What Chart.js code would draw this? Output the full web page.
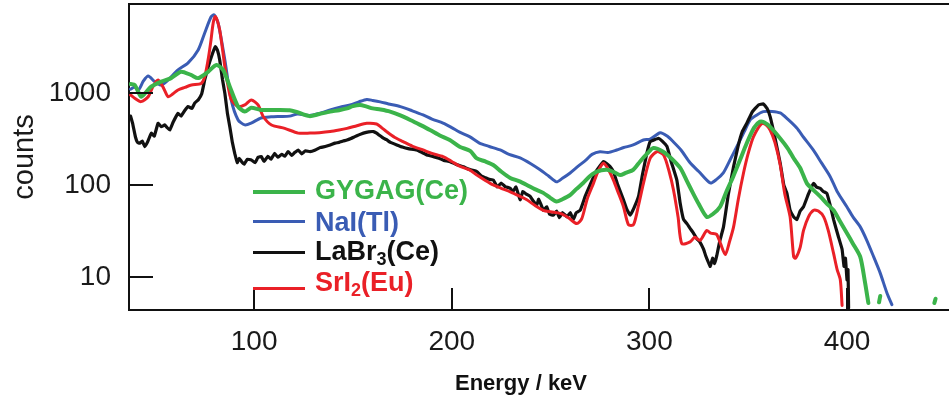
<!DOCTYPE html>
<html lang="en">
<head>
<meta charset="UTF-8">
<title>Scintillator spectra</title>
<script src="https://cdn.jsdelivr.net/npm/chart.js"></script>
<style>
  html, body { margin: 0; padding: 0; background: #fff; }
  .wrap { position: relative; width: 949px; height: 398px; font-family: "Liberation Sans", Arial, sans-serif; }
  .swatch { position: absolute; left: 253px; width: 52px; }
  .lbl { position: absolute; left: 315px; font-size: 27px; line-height: 27px; font-weight: bold; white-space: nowrap; }
  .lbl sub { font-size: 18px; line-height: 0; vertical-align: -5px; }
  .xtitle { position: absolute; top: 370px; left: 521px; transform: translateX(-50%); font-size: 22px; font-weight: bold; color: #111; white-space: nowrap; }
</style>
</head>
<body>
<div class="wrap">
  <canvas id="spec" width="949" height="398"></canvas>

  <div class="swatch" style="top:190px;height:4px;background:#3bb44a"></div>
  <div class="lbl" style="top:177px;color:#3bb44a">GYGAG(Ce)</div>
  <div class="swatch" style="top:219.5px;height:3px;background:#3a5cb4"></div>
  <div class="lbl" style="top:209px;color:#3a5cb4">NaI(Tl)</div>
  <div class="swatch" style="top:251px;height:3px;background:#111"></div>
  <div class="lbl" style="top:238px;color:#111">LaBr<sub>3</sub>(Ce)</div>
  <div class="swatch" style="top:287px;height:3px;background:#ea2027"></div>
  <div class="lbl" style="top:269px;color:#ea2027">SrI<sub>2</sub>(Eu)</div>

  <div class="xtitle">Energy / keV</div>
</div>

<script>
// [energy keV, counts]
const gygagCe = [
  [37.5,1250],[39.6,1220],[42.8,910],[45,1000],[47.9,1170],[53,1330],[58,1450],[63,1700],[68,1570],
  [71.7,1450],[76.7,1700],[80.9,2015],[84.3,1780],[87.7,1170],[91.9,710],[95.3,627],[98.5,690],
  [103.5,654],[112,654],[118,650],[121,627],[128,560],[133,590],[138.5,627],[143,650],[147,680],
  [150,720],[153.6,741],[157,710],[160,680],[164,660],[168.8,627],[174,570],[179,509],[184,450],
  [189,396],[194,345],[199,308],[204,260],[209.3,235],[212.7,194],[217,180],[221,165],[225,140],
  [229.6,119],[234,110],[238,100],[242,90],[246.3,82],[250,72],[253,66],[256,70],[260,78],[263,90],
  [266.5,105],[270,125],[273.4,140],[278.5,146],[282,138],[285.2,128],[288,135],[291.8,146],
  [295.3,180],[299,220],[302,252],[307,230],[311,195],[315.6,153],[319,110],[322,82],[325,62],
  [329,45],[332,48],[335.8,58],[339,85],[342.4,123],[346,190],[349.3,286],[353,420],[356,488],
  [358,480],[361,430],[366.2,320],[370,250],[373,195],[376.3,153],[379.7,104],[383,88],[386.4,75],
  [390,62],[393.2,53],[396.5,40],[399.9,30],[403,23],[406.7,16.5],[409,9],[410.8,5.2],
  [412,null],[416.2,5.3],[416.8,6.2],[420,null],[444.2,5.2],[444.8,5.8]
];

const naiTl = [
  [37.5,1100],[39.6,1160],[41.5,1080],[44,1350],[46.4,1530],[49.7,1330],[53,1220],[56.5,1385],
  [61.5,1780],[66.6,2120],[71.7,2930],[75,4480],[78.2,6700],[79.8,7050],[81.8,5750],[85.2,2285],
  [88.4,840],[91.9,509],[95.3,450],[98.5,470],[103.5,535],[108.6,550],[113,555],[118,560],[122,590],
  [128,570],[133,600],[138.5,654],[143.5,700],[148.6,741],[153,800],[157,850],[160,830],[163.8,800],
  [168,760],[174,710],[180,640],[185.5,577],[190,520],[195.6,470],[200,420],[204,375],[209,335],
  [214,285],[219,262],[224.5,240],[229,215],[234.6,197],[240,170],[244.7,146],[249,125],[253,108],
  [256,118],[259.9,135],[264,160],[268,187],[271,215],[275,230],[279,225],[283.5,240],[287,255],
  [291.8,272],[297,308],[300.4,315],[305.5,370],[309,340],[312,296],[316,240],[320.6,174],[325,140],
  [330.8,105],[334,115],[337.4,135],[341,190],[344.3,262],[348,380],[351,509],[354,570],[357.6,626],
  [362,630],[366.2,606],[370,520],[374.6,416],[378,330],[382.9,240],[387,175],[391.5,123],[395,85],
  [399.9,58],[403,45],[406.7,35],[410,25],[413.5,16.5],[416.8,11],[420.2,6.7],[422.7,5]
];

const labr3Ce = [
  [37.5,560],[38.5,470],[40,330],[41,290],[42.1,284],[43.4,300],[44.7,261],[46,290],[48,366],
  [49.5,340],[51.4,468],[53,430],[54.8,449],[56,420],[57.3,396],[59,480],[61.5,600],[63,560],
  [65,650],[66.6,710],[68.5,680],[70,780],[71.7,840],[73.5,980],[75,1385],[76.7,1900],[78.4,2480],
  [80.4,3180],[81.5,2900],[82.6,2285],[84,1400],[85.2,993],[86.5,600],[87.7,430],[89,290],[90.2,220],
  [91.5,175],[92.5,195],[93.6,180],[95,168],[96.5,190],[98.6,187],[100.5,175],[102,200],[103.7,203],
  [105,180],[107,205],[108.5,190],[110.4,220],[112,200],[114,215],[115.5,205],[117.2,230],[119,210],
  [120.5,225],[122.3,240],[124,218],[126,235],[128.3,230],[131,240],[133.5,255],[136,262],[138.5,272],
  [141,285],[143,290],[145,300],[147,308],[149,320],[151,335],[153,350],[155.3,366],[158,378],
  [160.4,380],[162,365],[163.5,345],[165.4,322],[167,310],[169,290],[172.2,272],[175,258],[178,248],
  [182.3,240],[185,225],[188,210],[190.7,203],[193.5,195],[196,185],[199.2,179],[202,168],[205.9,158],
  [208,150],[210,145],[212.7,140],[215,125],[217,120],[219,115],[221.1,113],[223,95],[225,105],
  [227,96],[229.6,92],[231,85],[232.5,95],[234.6,69],[236,85],[237.5,80],[239.7,75],[241,68],[243,60],
  [244,70],[246.4,53],[248,58],[249.5,48],[251.5,47],[253,52],[254.5,44],[256,50],[258.3,45],[260,50],
  [261.5,42],[263,50],[265,53],[267.5,75],[270,100],[273,140],[276.8,180],[278.5,170],[280,160],
  [281.8,140],[284,100],[286.9,69],[288.5,55],[290.3,47],[292,55],[294.5,75],[296.5,130],[298.7,220],
  [300.4,296],[302.5,310],[304.6,322],[306.5,300],[308.9,262],[311,180],[313.9,113],[315.5,65],
  [317.3,42],[319,38],[320.5,34],[322.3,30],[324,26],[325.5,24],[327.4,20],[328.5,17],[329.5,15],
  [330.8,13],[332,16],[333,14],[334.1,17],[335.5,24],[337.5,35],[340,80],[342.6,158],[345,270],
  [347,380],[349.3,468],[352,620],[355.2,741],[357.7,760],[359.5,680],[361.1,553],[363.5,330],
  [366.2,172],[368,100],[369.6,81],[371.2,53],[373,45],[374.6,42],[376.3,52],[378,58],[380.5,80],
  [383.1,104],[384.5,95],[386.4,92],[388,85],[389.8,81],[391.5,60],[393.2,42],[395.5,28],[397.5,20],
  [398.5,13],[399.2,16],[400,9.3],[400.5,12],[400.8,4.6]
];

const sri2Eu = [
  [37.5,950],[39.6,875],[42.8,805],[46.4,910],[49,1200],[51.4,1385],[54,1150],[56.5,910],[59,980],
  [61.5,1078],[65,1150],[68.3,1220],[73.2,1270],[75,1500],[76.7,2285],[78,3500],[79.3,5750],
  [80.4,6780],[81.5,6000],[82.6,4840],[84,3000],[85.2,1930],[86.8,1200],[88.5,840],[91.9,710],
  [95.3,741],[98.6,840],[102,741],[104.6,555],[108.8,449],[115.5,412],[122.3,366],[128.3,366],
  [133,370],[138.5,380],[143,395],[147,412],[152,440],[157,468],[162,460],[164.5,420],[167,380],
  [171,330],[175.4,296],[180,265],[185.5,240],[190,220],[195.6,203],[200,180],[204,160],[209,146],
  [212.7,128],[217,112],[221,100],[225,92],[229.6,84],[234,76],[238,69],[242,60],[246.3,53],[250,51],
  [254.9,49],[259,44],[263.3,38],[265.8,43],[268.5,70],[271.7,104],[274,140],[276.8,172],[279,150],
  [281.8,113],[284,85],[286.9,58],[289.4,37],[292,37],[294.5,60],[297,104],[300.4,195],[303.8,230],
  [307.2,212],[310,140],[312.2,88],[314.5,45],[316.4,23],[320.6,24],[323,27],[325.7,25],[329,32],
  [331,30],[334,29],[336,23],[338.4,17.5],[340.5,24],[342.6,35],[345,70],[347.6,134],[350,220],
  [352.7,335],[356.9,468],[359,450],[361.1,396],[363.5,290],[366.2,165],[368.5,80],[371.2,45],
  [373,16.5],[374,16],[376.3,21],[378,32],[380.5,45],[383.1,53],[385.5,52],[388.2,45],[390.5,32],
  [393.2,18],[395,12],[396.6,9.3],[397.5,4.9]
];

const xTicks = [100, 200, 300, 400];
const yTicks = [10, 100, 1000];

const FONT = '"Liberation Sans", Arial, sans-serif';
const toPts = rows => rows.map(([e, c]) => ({ x: e, y: c }));

// inward tick marks and the top edge of the frame
const frame = {
  id: 'frame',
  afterDraw(chart) {
    const { ctx, chartArea: a, scales: { x, y } } = chart;
    ctx.save();
    ctx.strokeStyle = '#111';
    ctx.lineWidth = 2;
    ctx.beginPath();
    ctx.moveTo(a.left, a.top);
    ctx.lineTo(a.right, a.top);
    xTicks.forEach(v => {
      const px = Math.round(x.getPixelForValue(v));
      ctx.moveTo(px, a.bottom);
      ctx.lineTo(px, a.bottom - 22);
    });
    yTicks.forEach(v => {
      const py = Math.round(y.getPixelForValue(v));
      ctx.moveTo(a.left, py);
      ctx.lineTo(a.left + 24, py);
    });
    ctx.stroke();
    ctx.restore();
  }
};

const noPad = s => { s.paddingTop = 0; s.paddingBottom = 0; s.paddingLeft = 0; s.paddingRight = 0; };

new Chart(document.getElementById('spec'), {
  type: 'line',
  data: {
    datasets: [
      { label: 'GYGAG(Ce)', data: toPts(gygagCe), borderColor: '#3bb44a', borderWidth: 4, order: 0, tension: 0.25 },
      { label: 'SrI2(Eu)', data: toPts(sri2Eu), borderColor: '#ea2027', borderWidth: 3, order: 1, tension: 0.25 },
      { label: 'LaBr3(Ce)', data: toPts(labr3Ce), borderColor: '#111111', borderWidth: 3.2, order: 2, tension: 0.1 },
      { label: 'NaI(Tl)', data: toPts(naiTl), borderColor: '#3a5cb4', borderWidth: 3, order: 3, tension: 0.25 }
    ]
  },
  options: {
    responsive: false,
    animation: false,
    spanGaps: false,
    layout: { padding: { top: 4, left: 0, right: 0, bottom: 0 } },
    elements: { point: { radius: 0 }, line: { borderCapStyle: 'round', borderJoinStyle: 'round' } },
    plugins: { legend: { display: false }, tooltip: { enabled: false } },
    scales: {
      x: {
        type: 'linear',
        min: 36.7,
        max: 451.6,
        grid: { display: false, drawTicks: false },
        border: { display: true, color: '#111', width: 2 },
        afterBuildTicks: s => { s.ticks = xTicks.map(v => ({ value: v })); },
        afterFit: s => { s.height = 88; noPad(s); },
        ticks: { font: { family: FONT, size: 28 }, color: '#1a1a1a', padding: 15, maxRotation: 0, autoSkip: false,
                 callback: v => String(v) }
      },
      y: {
        type: 'logarithmic',
        min: 4.37,
        max: 9270,
        grid: { display: false, drawTicks: false },
        border: { display: true, color: '#111', width: 2 },
        afterBuildTicks: s => { s.ticks = yTicks.map(v => ({ value: v })); },
        afterFit: s => { s.width = 129; noPad(s); },
        ticks: { font: { family: FONT, size: 28 }, color: '#1a1a1a', padding: 18, autoSkip: false,
                 callback: v => String(v) },
        title: { display: true, text: 'counts', font: { family: FONT, size: 29 }, color: '#1a1a1a',
                 padding: { top: 8, bottom: 0 } }
      }
    }
  },
  plugins: [frame]
});
</script>
</body>
</html>
